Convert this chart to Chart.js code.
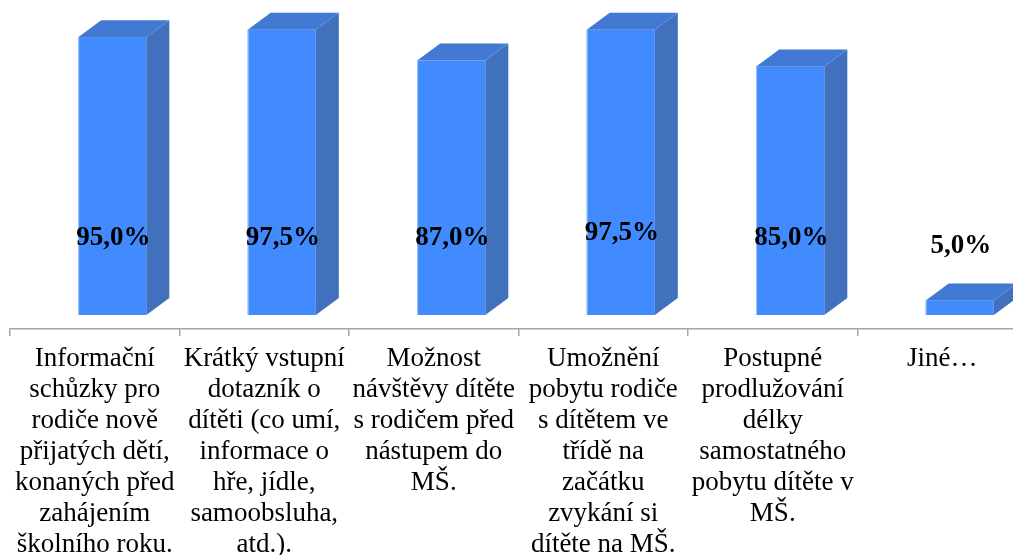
<!DOCTYPE html>
<html>
<head>
<meta charset="utf-8">
<script src="https://cdn.jsdelivr.net/npm/chart.js@4/dist/chart.umd.min.js"></script>
<style>
  html, body { margin: 0; padding: 0; background: #ffffff; overflow: hidden; }
  #wrap { width: 1028px; height: 555px; }
</style>
</head>
<body>
<div id="wrap"><canvas id="c" width="1028" height="555"></canvas></div>
<script>
// ---- data ----
const categories = [
  ["Informační", "schůzky pro", "rodiče nově", "přijatých dětí,", "konaných před", "zahájením", "školního roku."],
  ["Krátký vstupní", "dotazník o", "dítěti (co umí,", "informace o", "hře, jídle,", "samoobsluha,", "atd.)."],
  ["Možnost", "návštěvy dítěte", "s rodičem před", "nástupem do", "MŠ."],
  ["Umožnění", "pobytu rodiče", "s dítětem ve", "třídě na", "začátku", "zvykání si", "dítěte na MŠ."],
  ["Postupné", "prodlužování", "délky", "samostatného", "pobytu dítěte v", "MŠ."],
  ["Jiné…"]
];
const values = [95.0, 97.5, 87.0, 97.5, 85.0, 5.0];
const valueLabels = ["95,0%", "97,5%", "87,0%", "97,5%", "85,0%", "5,0%"];

// ---- style ----
const FRONT = '#418BFF';
const TOP = '#4279D3';
const SIDE = '#4171BD';
const EDGE = 'rgba(170,200,250,0.9)';
const FRONT_SHIFT_X = 17.5, FRONT_SHIFT_Y = -14;
const DEPTH_X = 23, DEPTH_Y = -17;
const labelCenterY = [238, 238, 238, 233, 238, 246];

const box3d = {
  id: 'box3d',
  afterDatasetsDraw(chart) {
    const ctx = chart.ctx;
    const meta = chart.getDatasetMeta(0);
    meta.data.forEach((el, i) => {
      const p = el.getProps(['x', 'y', 'base', 'width'], true);
      const cx = p.x + FRONT_SHIFT_X;
      const L = cx - p.width / 2, R = cx + p.width / 2;
      const T = p.y + FRONT_SHIFT_Y, B = p.base + FRONT_SHIFT_Y;
      ctx.save();
      // front
      ctx.fillStyle = FRONT;
      ctx.fillRect(L, T, R - L, B - T);
      // side
      ctx.fillStyle = SIDE;
      ctx.beginPath();
      ctx.moveTo(R, T); ctx.lineTo(R + DEPTH_X, T + DEPTH_Y);
      ctx.lineTo(R + DEPTH_X, B + DEPTH_Y); ctx.lineTo(R, B);
      ctx.closePath(); ctx.fill();
      // top
      ctx.fillStyle = TOP;
      ctx.beginPath();
      ctx.moveTo(L, T); ctx.lineTo(L + DEPTH_X, T + DEPTH_Y);
      ctx.lineTo(R + DEPTH_X, T + DEPTH_Y); ctx.lineTo(R, T);
      ctx.closePath(); ctx.fill();
      // light left edge
      ctx.strokeStyle = EDGE; ctx.lineWidth = 1;
      ctx.beginPath();
      ctx.moveTo(L + 0.5, B); ctx.lineTo(L + 0.5, T);
      ctx.stroke();
      // value label
      ctx.fillStyle = '#000000';
      ctx.font = 'bold 27px "Liberation Serif", "Times New Roman", serif';
      ctx.textAlign = 'center';
      ctx.textBaseline = 'middle';
      ctx.fillText(valueLabels[i], cx + 1, labelCenterY[i]);
      ctx.restore();
    });
  }
};

new Chart(document.getElementById('c'), {
  type: 'bar',
  data: {
    labels: categories,
    datasets: [{
      data: values,
      backgroundColor: 'rgba(0,0,0,0)',
      borderWidth: 0,
      barPercentage: 0.402,
      categoryPercentage: 1.0
    }]
  },
  options: {
    responsive: false,
    animation: false,
    events: [],
    layout: { padding: { top: 36.5, left: 10, right: 1, bottom: 0 } },
    plugins: { legend: { display: false }, tooltip: { enabled: false } },
    scales: {
      x: {
        afterFit(scale) { scale.height = 226; },
        border: { display: true, color: '#A6A6A6', width: 1.5 },
        grid: { display: true, drawOnChartArea: false, drawTicks: true, tickLength: 7, color: '#A6A6A6', lineWidth: 1.5, offset: true },
        ticks: {
          autoSkip: false, maxRotation: 0, minRotation: 0, padding: 7.5,
          color: '#000000',
          font: { family: '"Liberation Serif", "Times New Roman", serif', size: 27, lineHeight: '31px' }
        }
      },
      y: { display: false, min: 0, max: 100 }
    }
  },
  plugins: [box3d]
});
</script>
</body>
</html>
